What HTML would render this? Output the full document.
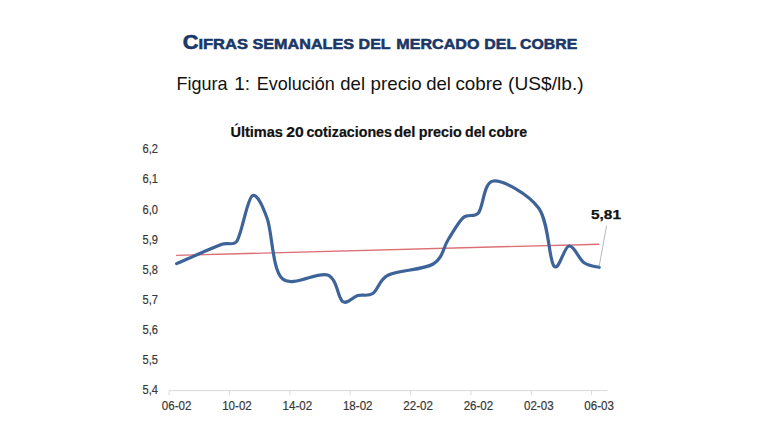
<!DOCTYPE html>
<html><head><meta charset="utf-8"><style>
html,body{margin:0;padding:0;background:#fff;width:768px;height:432px;overflow:hidden;font-family:"Liberation Sans",sans-serif;}
svg{display:block;}
</style></head><body>
<svg width="768" height="432" viewBox="0 0 768 432">
<text x="182.70" y="48.6" textLength="65.30" lengthAdjust="spacingAndGlyphs" fill="#1B3766" stroke="#1B3766" stroke-width="0.55" font-family="Liberation Sans" font-weight="bold" font-size="20">C<tspan font-size="15.2">IFRAS</tspan></text>
<text x="252.50" y="48.6" textLength="101.50" lengthAdjust="spacingAndGlyphs" fill="#1B3766" stroke="#1B3766" stroke-width="0.55" font-family="Liberation Sans" font-weight="bold" font-size="20"><tspan font-size="15.2">SEMANALES</tspan></text>
<text x="358.60" y="48.6" textLength="32.00" lengthAdjust="spacingAndGlyphs" fill="#1B3766" stroke="#1B3766" stroke-width="0.55" font-family="Liberation Sans" font-weight="bold" font-size="20"><tspan font-size="15.2">DEL</tspan></text>
<text x="396.30" y="48.6" textLength="83.10" lengthAdjust="spacingAndGlyphs" fill="#1B3766" stroke="#1B3766" stroke-width="0.55" font-family="Liberation Sans" font-weight="bold" font-size="20"><tspan font-size="15.2">MERCADO</tspan></text>
<text x="484.30" y="48.6" textLength="31.80" lengthAdjust="spacingAndGlyphs" fill="#1B3766" stroke="#1B3766" stroke-width="0.55" font-family="Liberation Sans" font-weight="bold" font-size="20"><tspan font-size="15.2">DEL</tspan></text>
<text x="520.10" y="48.6" textLength="57.20" lengthAdjust="spacingAndGlyphs" fill="#1B3766" stroke="#1B3766" stroke-width="0.55" font-family="Liberation Sans" font-weight="bold" font-size="20"><tspan font-size="15.2">COBRE</tspan></text>
<text x="176.60" y="89.6" textLength="51.00" lengthAdjust="spacingAndGlyphs" fill="#111" font-family="Liberation Sans" font-size="17.8">Figura</text>
<text x="234.20" y="89.6" textLength="15.90" lengthAdjust="spacingAndGlyphs" fill="#111" font-family="Liberation Sans" font-size="17.8">1:</text>
<text x="256.70" y="89.6" textLength="78.00" lengthAdjust="spacingAndGlyphs" fill="#111" font-family="Liberation Sans" font-size="17.8">Evolución</text>
<text x="340.30" y="89.6" textLength="24.70" lengthAdjust="spacingAndGlyphs" fill="#111" font-family="Liberation Sans" font-size="17.8">del</text>
<text x="370.60" y="89.6" textLength="51.00" lengthAdjust="spacingAndGlyphs" fill="#111" font-family="Liberation Sans" font-size="17.8">precio</text>
<text x="426.20" y="89.6" textLength="24.70" lengthAdjust="spacingAndGlyphs" fill="#111" font-family="Liberation Sans" font-size="17.8">del</text>
<text x="455.40" y="89.6" textLength="47.10" lengthAdjust="spacingAndGlyphs" fill="#111" font-family="Liberation Sans" font-size="17.8">cobre</text>
<text x="508.10" y="89.6" textLength="75.50" lengthAdjust="spacingAndGlyphs" fill="#111" font-family="Liberation Sans" font-size="17.8">(US$/lb.)</text>
<text x="230.40" y="137.2" textLength="52.50" lengthAdjust="spacingAndGlyphs" fill="#111" stroke="#111" stroke-width="0.2" font-family="Liberation Sans" font-weight="bold" font-size="14">Últimas</text>
<text x="286.20" y="137.2" textLength="17.50" lengthAdjust="spacingAndGlyphs" fill="#111" stroke="#111" stroke-width="0.2" font-family="Liberation Sans" font-weight="bold" font-size="14">20</text>
<text x="306.40" y="137.2" textLength="85.60" lengthAdjust="spacingAndGlyphs" fill="#111" stroke="#111" stroke-width="0.2" font-family="Liberation Sans" font-weight="bold" font-size="14">cotizaciones</text>
<text x="394.00" y="137.2" textLength="21.50" lengthAdjust="spacingAndGlyphs" fill="#111" stroke="#111" stroke-width="0.2" font-family="Liberation Sans" font-weight="bold" font-size="14">del</text>
<text x="418.70" y="137.2" textLength="43.10" lengthAdjust="spacingAndGlyphs" fill="#111" stroke="#111" stroke-width="0.2" font-family="Liberation Sans" font-weight="bold" font-size="14">precio</text>
<text x="465.00" y="137.2" textLength="20.50" lengthAdjust="spacingAndGlyphs" fill="#111" stroke="#111" stroke-width="0.2" font-family="Liberation Sans" font-weight="bold" font-size="14">del</text>
<text x="488.60" y="137.2" textLength="38.40" lengthAdjust="spacingAndGlyphs" fill="#111" stroke="#111" stroke-width="0.2" font-family="Liberation Sans" font-weight="bold" font-size="14">cobre</text>
<text x="157.9" y="153.40" text-anchor="end" fill="#383838" stroke="#383838" stroke-width="0.2" font-family="Liberation Sans" font-size="12" textLength="15.4" lengthAdjust="spacingAndGlyphs">6,2</text>
<text x="157.9" y="183.47" text-anchor="end" fill="#383838" stroke="#383838" stroke-width="0.2" font-family="Liberation Sans" font-size="12" textLength="15.4" lengthAdjust="spacingAndGlyphs">6,1</text>
<text x="157.9" y="213.55" text-anchor="end" fill="#383838" stroke="#383838" stroke-width="0.2" font-family="Liberation Sans" font-size="12" textLength="15.4" lengthAdjust="spacingAndGlyphs">6,0</text>
<text x="157.9" y="243.62" text-anchor="end" fill="#383838" stroke="#383838" stroke-width="0.2" font-family="Liberation Sans" font-size="12" textLength="15.4" lengthAdjust="spacingAndGlyphs">5,9</text>
<text x="157.9" y="273.70" text-anchor="end" fill="#383838" stroke="#383838" stroke-width="0.2" font-family="Liberation Sans" font-size="12" textLength="15.4" lengthAdjust="spacingAndGlyphs">5,8</text>
<text x="157.9" y="303.78" text-anchor="end" fill="#383838" stroke="#383838" stroke-width="0.2" font-family="Liberation Sans" font-size="12" textLength="15.4" lengthAdjust="spacingAndGlyphs">5,7</text>
<text x="157.9" y="333.85" text-anchor="end" fill="#383838" stroke="#383838" stroke-width="0.2" font-family="Liberation Sans" font-size="12" textLength="15.4" lengthAdjust="spacingAndGlyphs">5,6</text>
<text x="157.9" y="363.93" text-anchor="end" fill="#383838" stroke="#383838" stroke-width="0.2" font-family="Liberation Sans" font-size="12" textLength="15.4" lengthAdjust="spacingAndGlyphs">5,5</text>
<text x="157.9" y="394.00" text-anchor="end" fill="#383838" stroke="#383838" stroke-width="0.2" font-family="Liberation Sans" font-size="12" textLength="15.4" lengthAdjust="spacingAndGlyphs">5,4</text>
<line x1="169" y1="390.6" x2="607.3" y2="390.6" stroke="#D9D9D9" stroke-width="1"/>
<line x1="169.10" y1="390.6" x2="169.10" y2="395.1" stroke="#D9D9D9" stroke-width="1"/>
<line x1="229.46" y1="390.6" x2="229.46" y2="395.1" stroke="#D9D9D9" stroke-width="1"/>
<line x1="289.82" y1="390.6" x2="289.82" y2="395.1" stroke="#D9D9D9" stroke-width="1"/>
<line x1="350.18" y1="390.6" x2="350.18" y2="395.1" stroke="#D9D9D9" stroke-width="1"/>
<line x1="410.54" y1="390.6" x2="410.54" y2="395.1" stroke="#D9D9D9" stroke-width="1"/>
<line x1="470.90" y1="390.6" x2="470.90" y2="395.1" stroke="#D9D9D9" stroke-width="1"/>
<line x1="531.26" y1="390.6" x2="531.26" y2="395.1" stroke="#D9D9D9" stroke-width="1"/>
<line x1="591.62" y1="390.6" x2="591.62" y2="395.1" stroke="#D9D9D9" stroke-width="1"/>
<text x="176.64" y="409.9" text-anchor="middle" fill="#383838" stroke="#383838" stroke-width="0.2" font-family="Liberation Sans" font-size="12" textLength="29.6" lengthAdjust="spacingAndGlyphs">06-02</text>
<text x="237.00" y="409.9" text-anchor="middle" fill="#383838" stroke="#383838" stroke-width="0.2" font-family="Liberation Sans" font-size="12" textLength="29.6" lengthAdjust="spacingAndGlyphs">10-02</text>
<text x="297.37" y="409.9" text-anchor="middle" fill="#383838" stroke="#383838" stroke-width="0.2" font-family="Liberation Sans" font-size="12" textLength="29.6" lengthAdjust="spacingAndGlyphs">14-02</text>
<text x="357.73" y="409.9" text-anchor="middle" fill="#383838" stroke="#383838" stroke-width="0.2" font-family="Liberation Sans" font-size="12" textLength="29.6" lengthAdjust="spacingAndGlyphs">18-02</text>
<text x="418.08" y="409.9" text-anchor="middle" fill="#383838" stroke="#383838" stroke-width="0.2" font-family="Liberation Sans" font-size="12" textLength="29.6" lengthAdjust="spacingAndGlyphs">22-02</text>
<text x="478.44" y="409.9" text-anchor="middle" fill="#383838" stroke="#383838" stroke-width="0.2" font-family="Liberation Sans" font-size="12" textLength="29.6" lengthAdjust="spacingAndGlyphs">26-02</text>
<text x="538.80" y="409.9" text-anchor="middle" fill="#383838" stroke="#383838" stroke-width="0.2" font-family="Liberation Sans" font-size="12" textLength="29.6" lengthAdjust="spacingAndGlyphs">02-03</text>
<text x="599.16" y="409.9" text-anchor="middle" fill="#383838" stroke="#383838" stroke-width="0.2" font-family="Liberation Sans" font-size="12" textLength="29.6" lengthAdjust="spacingAndGlyphs">06-03</text>
<line x1="176.1" y1="255.4" x2="599.4" y2="244.2" stroke="#DC6E74" stroke-width="1.4"/>
<path d="M176.64 263.60 C184.19 260.38 211.85 248.07 221.91 244.30 C227.70 242.13 233.73 246.24 237.00 241.00 C242.03 232.95 247.06 199.75 252.09 196.00 C257.12 192.25 263.47 208.32 267.19 218.50 C272.21 232.28 272.21 269.28 282.27 278.70 C292.33 288.12 317.48 271.20 327.54 275.00 C337.60 278.80 337.60 298.08 342.63 301.50 C347.67 304.92 352.70 296.83 357.73 295.50 C362.75 294.17 367.79 296.88 372.81 293.50 C377.84 290.12 379.38 279.37 387.90 275.20 C397.96 270.28 423.11 269.95 433.17 264.00 C443.08 258.14 443.23 247.25 448.26 239.50 C453.30 231.75 458.33 221.92 463.36 217.50 C468.09 213.34 474.43 217.85 478.44 213.00 C483.47 206.92 483.47 181.78 493.53 181.00 C503.59 180.22 528.74 194.13 538.80 208.30 C548.87 222.47 548.87 259.72 553.89 266.00 C558.92 272.28 563.96 246.53 568.99 246.00 C574.01 245.47 579.05 259.25 584.08 262.80 C589.11 266.35 596.65 266.55 599.16 267.30" fill="none" stroke="#3D6399" stroke-width="3.2" stroke-linecap="round" stroke-linejoin="round"/>
<line x1="606.6" y1="225.7" x2="599.1" y2="266.8" stroke="#A6A6A6" stroke-width="0.8"/>
<text x="591.0" y="218.6" textLength="30" lengthAdjust="spacingAndGlyphs" fill="#111" stroke="#111" stroke-width="0.25" font-family="Liberation Sans" font-weight="bold" font-size="13.6">5,81</text>
</svg>
</body></html>
